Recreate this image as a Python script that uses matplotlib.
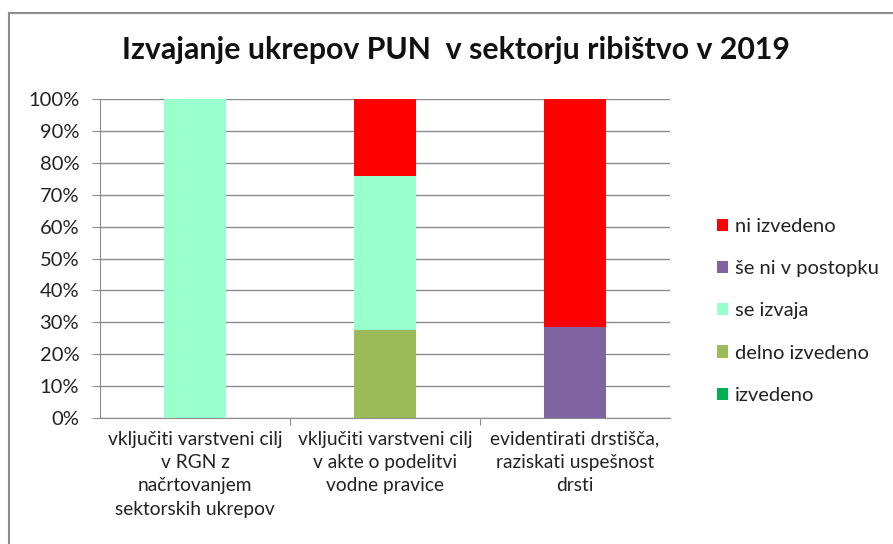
import numpy as np
import matplotlib.pyplot as plt
from matplotlib.lines import Line2D
from matplotlib.ticker import PercentFormatter

plt.rcParams['font.family'] = ['Lato', 'DejaVu Sans']

kategorije = ['vključiti varstveni cilj\nv RGN z\nnačrtovanjem\nsektorskih ukrepov',
              'vključiti varstveni cilj\nv akte o podelitvi\nvodne pravice',
              'evidentirati drstišča,\nraziskati uspešnost\ndrsti']
# deleži (%) po stanju, od spodaj navzgor
izvedeno = [0, 0, 0]
delno_izvedeno = [0, 27.6, 0]
se_izvaja = [100, 48.3, 0]
se_ni_v_postopku = [0, 0, 28.4]
ni_izvedeno = [0, 24.1, 71.6]

serije = [('izvedeno', izvedeno, '#00B050'),
          ('delno izvedeno', delno_izvedeno, '#9BBB59'),
          ('se izvaja', se_izvaja, '#99FFCC'),
          ('še ni v postopku', se_ni_v_postopku, '#8064A2'),
          ('ni izvedeno', ni_izvedeno, '#FF0000')]

fig = plt.figure(figsize=(8.93, 5.44), dpi=100)
ax = fig.add_axes([100/893, 1-418/544, 570/893, 319/544])

x = np.arange(len(kategorije))
spodaj = np.zeros(len(kategorije))
for ime, vrednosti, barva in serije:
    ax.bar(x, vrednosti, width=0.33, bottom=spodaj, color=barva, label=ime, zorder=3)
    spodaj += np.array(vrednosti)

ax.set_xlim(-0.5, 2.5)
ax.set_ylim(0, 100)
ax.set_yticks(np.arange(0, 101, 10))
ax.yaxis.set_major_formatter(PercentFormatter(decimals=0))
ax.grid(axis='y', color='#8c8c8c', linewidth=1, zorder=0)
for s in ['top', 'right']:
    ax.spines[s].set_visible(False)
ax.spines['left'].set_color('#8c8c8c')
ax.spines['bottom'].set_color('#8c8c8c')
ax.tick_params(axis='y', colors='#8c8c8c', labelcolor='#222222', labelsize=14.5, length=6, pad=9)
ax.set_xticks([0.5, 1.5], minor=False)
ax.set_xticklabels([])
ax.tick_params(axis='x', colors='#8c8c8c', length=5)
for i, lab in enumerate(kategorije):
    ax.text(i, -4.0, lab, ha='center', va='top', fontsize=13.8, color='#222222',
            linespacing=1.45, transform=ax.transData)

h, l = ax.get_legend_handles_labels()
ax.legend(h[::-1], l[::-1], loc='center left', bbox_to_anchor=(699/893, 1-311/544),
          bbox_transform=fig.transFigure, frameon=False, fontsize=14.5,
          handlelength=0.55, handleheight=0.55, handletextpad=0.35, labelspacing=1.25,
          labelcolor='#222222')

fig.text(456/893, 1-50/544, 'Izvajanje ukrepov PUN  v sektorju ribištvo v 2019',
         ha='center', va='center', fontsize=21.8, fontweight='bold', color='#111111')

fig.add_artist(Line2D([9/893, 9/893], [0, 1-13/544], transform=fig.transFigure, color='#8c8c8c', lw=1.5))
fig.add_artist(Line2D([9/893, 1], [1-13/544, 1-13/544], transform=fig.transFigure, color='#8c8c8c', lw=1.5))

fig.savefig('out.png', dpi=100)
